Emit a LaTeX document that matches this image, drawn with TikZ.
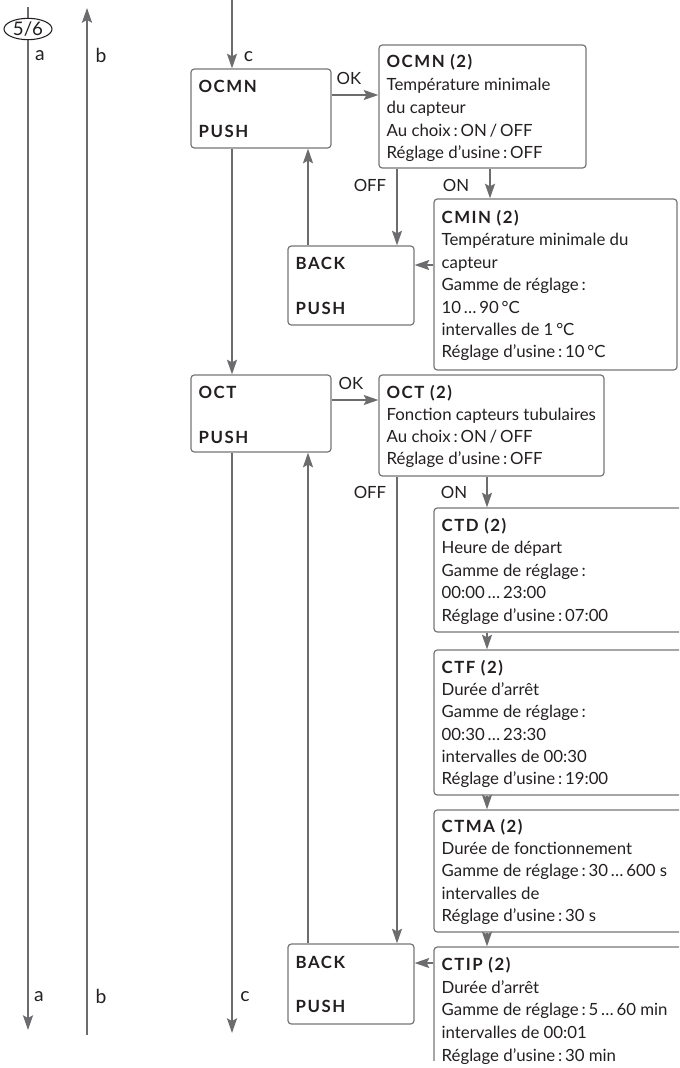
\documentclass[tikz,border=0pt]{standalone}
\usepackage{fontspec}
\setmainfont{Lato}[BoldFeatures={LetterSpace=9}]
\usetikzlibrary{arrows.meta,shapes.geometric,fit}
\definecolor{lncol}{RGB}{108,108,110}
\definecolor{bxcol}{RGB}{118,118,120}
\definecolor{txcol}{RGB}{35,31,32}
\newcommand\boxlines[4]{%
  \foreach \tline [count=\i] in {#4} {%
    \node[txt] (#1-\i) at ([shift={(8,{#2+#3*(\i-1)})}]#1.north west) {\tline};}}
\begin{document}
\begin{tikzpicture}[x=0.75pt,y=-0.75pt,
  box/.style={draw=bxcol,line width=0.9pt,rounded corners=2.5pt,inner sep=0pt,fit={#1}},
  arr/.style={draw=lncol,line width=1.4pt,-{Stealth[length=11pt,width=7.5pt,inset=2pt]}},
  txt/.style={anchor=base west,inner sep=0pt,text=txcol,font=\fontsize{12.6pt}{15pt}\selectfont},
  lbl/.style={inner sep=0pt,text=txcol,font=\fontsize{12.6pt}{15pt}\selectfont},
  abc/.style={inner sep=0pt,text=txcol,font=\fontsize{14.5pt}{17pt}\selectfont}]
\useasboundingbox (0,0) rectangle (679,1068);
\clip (0,0) rectangle (679,1068);

% boxes
\node[box={(191,69) (331,148)}] (ocmn) {};
\node[box={(379,45) (586,168)}] (ocmn2) {};
\node[box={(288,246) (414,325)}] (back1) {};
\node[box={(434,199) (677,370)}] (cmin) {};
\node[box={(191,375) (331,452)}] (oct) {};
\node[box={(379,375) (604,476)}] (oct2) {};
\node[box={(434,508) (700,632)}] (ctd) {};
\node[box={(434,650) (700,795)}] (ctf) {};
\node[box={(434,810) (700,932)}] (ctma) {};
\begin{scope}
\clip (0,0) rectangle (679,1060);
\node[box={(434,947) (700,1100)}] (ctip) {};
\end{scope}
\node[box={(288,944) (414,1024)}] (back2) {};

% texts
\boxlines{ocmn}{24.5}{45}{{\textbf{OCMN}},{\textbf{PUSH}}}
\boxlines{back1}{24.5}{45}{{\textbf{BACK}},{\textbf{PUSH}}}
\boxlines{oct}{24}{45.5}{{\textbf{OCT}},{\textbf{PUSH}}}
\boxlines{back2}{25}{44.5}{{\textbf{BACK}},{\textbf{PUSH}}}
\boxlines{ocmn2}{23.5}{22.7}{{\textbf{OCMN (2)}},Température minimale,du capteur,Au choix\,:\,ON\,/\,OFF,Réglage d’usine\,:\,OFF}
\boxlines{cmin}{25}{22.4}{{\textbf{CMIN (2)}},Température minimale du,capteur,Gamme de réglage\,:,10\,…\,90\,°C,intervalles de 1\,°C,Réglage d’usine\,:\,10\,°C}
\boxlines{oct2}{24}{22}{{\textbf{OCT (2)}},Fonction capteurs tubulaires,Au choix\,:\,ON\,/\,OFF,Réglage d’usine\,:\,OFF}
\boxlines{ctd}{24}{22.4}{{\textbf{CTD (2)}},Heure de départ,Gamme de réglage\,:,00:00\,…\,23:00,Réglage d’usine\,:\,07:00}
\boxlines{ctf}{24}{22.2}{{\textbf{CTF (2)}},Durée d’arrêt,Gamme de réglage\,:,00:30\,…\,23:30,intervalles de 00:30,Réglage d’usine\,:\,19:00}
\boxlines{ctma}{23}{22.2}{{\textbf{CTMA (2)}},Durée de fonctionnement,Gamme de réglage\,:\,30\,…\,600 s,intervalles de,Réglage d’usine\,:\,30 s}
\boxlines{ctip}{24}{22.7}{{\textbf{CTIP (2)}},Durée d’arrêt,Gamme de réglage\,:\,5\,…\,60 min,intervalles de 00:01,Réglage d’usine\,:\,30 min}

% helper coordinates
\coordinate (ctop) at (232,0);
\coordinate (cbot) at (232,1033);
\coordinate (xa) at (308,0);
\coordinate (xoff) at (397,0);
\coordinate (xon1) at (490,0);
\coordinate (xon2) at (487,0);
\coordinate (y95) at (0,95);
\coordinate (y400) at (0,400);
\coordinate (y265) at (0,265);
\coordinate (y963) at (0,963);
\coordinate (atop) at (28,7);
\coordinate (abot) at (28,1030);
\coordinate (btop) at (87,8);
\coordinate (bbot) at (87,1035);

% left lines
\draw[arr] (atop) -- (abot);
\draw[arr] (bbot) -- (btop);
\node[ellipse,draw=txcol,line width=0.8pt,fill=white,minimum width=36pt,minimum height=16pt,inner sep=0pt,text=txcol,font=\fontsize{14pt}{16pt}\selectfont] (e56) at (28,29) {5/6};

% c line
\draw[arr] (ctop) -- (ctop |- ocmn.north);
\draw[arr] (ocmn.south -| ctop) -- (oct.north -| ctop);
\draw[arr] (oct.south -| cbot) -- (cbot);

% back arrows up
\draw[arr] (back1.north -| xa) -- (ocmn.south -| xa);
\draw[arr] (back2.north -| xa) -- (oct.south -| xa);

% OK arrows
\draw[arr] (ocmn.east |- y95) -- (ocmn2.west |- y95);
\draw[arr] (oct.east |- y400) -- (oct2.west |- y400);

% OFF arrows
\draw[arr] (ocmn2.south -| xoff) -- (back1.north -| xoff);
\draw[arr] (oct2.south -| xoff) -- (back2.north -| xoff);

% ON arrows
\draw[arr] (ocmn2.south -| xon1) -- (cmin.north -| xon1);
\draw[arr] (oct2.south -| xon2) -- (ctd.north -| xon2);
\draw[arr] (ctd.south -| xon2) -- (ctf.north -| xon2);
\draw[arr] (ctf.south -| xon2) -- (ctma.north -| xon2);
\draw[arr] (ctma.south -| xon2) -- (ctip.north -| xon2);

% to BACK
\draw[arr] (cmin.west |- y265) -- (back1.east |- y265);
\draw[arr] (ctip.west |- y963) -- (back2.east |- y963);

% labels
\node[abc] (la1) at (40,56) {a};
\node[abc] (lb1) at (101,55) {b};
\node[abc] (lc1) at (248.5,57) {c};
\node[abc] (la2) at (39,997) {a};
\node[abc] (lb2) at (101,996) {b};
\node[abc] (lc2) at (245,997) {c};
\node[lbl] (ok1) at (349,78) {OK};
\node[lbl] (ok2) at (351,383) {OK};
\node[lbl] (off1) at (370,185) {OFF};
\node[lbl] (off2) at (370,492) {OFF};
\node[lbl] (on1) at (456,185) {ON};
\node[lbl] (on2) at (454,492) {ON};
\end{tikzpicture}
\end{document}
